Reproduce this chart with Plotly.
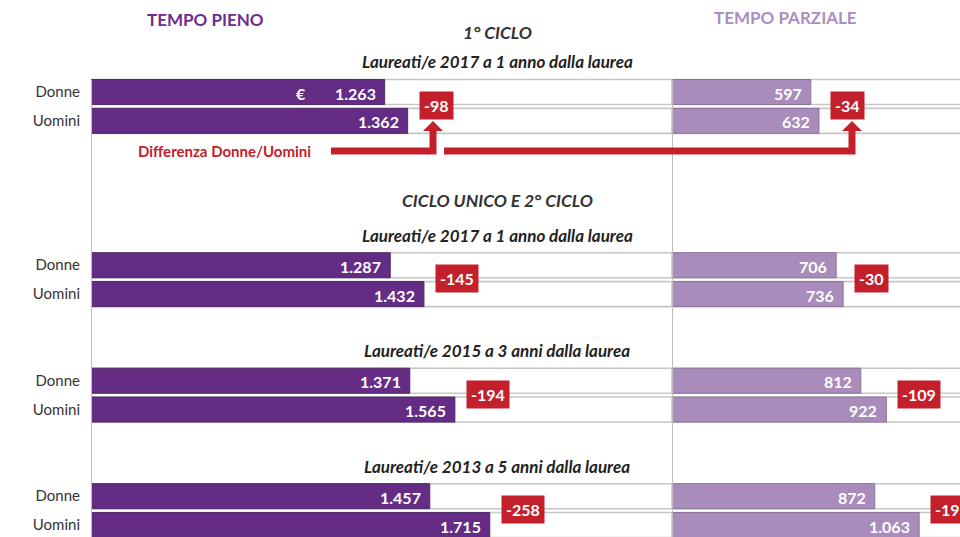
import plotly.graph_objects as go

# ---------------- data ----------------
group_titles = [
    "Laureati/e 2017 a 1 anno dalla laurea",
    "Laureati/e 2017 a 1 anno dalla laurea",
    "Laureati/e 2015 a 3 anni dalla laurea",
    "Laureati/e 2013 a 5 anni dalla laurea",
]
section_titles = ["1° CICLO", "CICLO UNICO E 2° CICLO"]
row_labels = ["Donne", "Uomini"]
full_donne = [1263, 1287, 1371, 1457]
full_uomini = [1362, 1432, 1565, 1715]
part_donne = [597, 706, 812, 872]
part_uomini = [632, 736, 922, 1063]
diff_full = [-98, -145, -194, -258]
diff_part = [-34, -30, -109, -191]

# ---------------- layout constants (window pixels) ----------------
W, H = 960, 537
ML = 91                      # left margin
SPLIT = 672                  # start of part-time panel
PXU = 0.2325                 # pixels per euro
ROW_PX = 28.87               # pixels per row
ROW0_PX = 92                 # centre of first row
group_rows = [0, 6, 10, 14]  # row index of "Donne" in each group
BAR_W = 0.866

DARK = "#652c86"
LIGHT = "#a98cbb"
RED = "#c4202b"
GREY = "#c6c6c6"
TXT = "#333333"
FONT = "Lato, 'Open Sans', sans-serif"

plot_w = W - ML
x1_max = (SPLIT - ML) / PXU
x2_max = (W - SPLIT) / PXU
split_frac = (SPLIT - ML) / plot_w
y_top = -ROW0_PX / ROW_PX
y_bot = y_top + H / ROW_PX


def pxx(p):  # window pixel -> paper x
    return (p - ML) / plot_w


def pxy(p):  # window pixel -> paper y
    return 1 - p / H


def fmt(v):
    return f"{v:,}".replace(",", ".")


rows_d = list(group_rows)
rows_u = [r + 1 for r in group_rows]
all_rows = sorted(rows_d + rows_u)

fig = go.Figure()

# background tracks
for xa, xmax in (("x", x1_max), ("x2", x2_max * 1.2)):
    fig.add_trace(go.Bar(
        y=all_rows, x=[xmax] * len(all_rows), orientation="h", xaxis=xa, yaxis="y",
        width=BAR_W, marker=dict(color="white", line=dict(color=GREY, width=1.6)),
        hoverinfo="skip", showlegend=False))

# value bars
for xa, vals_d, vals_u, col, edge in (
        ("x", full_donne, full_uomini, DARK, "#4e2a66"),
        ("x2", part_donne, part_uomini, LIGHT, "#8a7398")):
    fig.add_trace(go.Bar(
        y=rows_d + rows_u, x=vals_d + vals_u, orientation="h", xaxis=xa, yaxis="y",
        width=BAR_W, marker=dict(color=col, line=dict(color=edge, width=1)),
        hoverinfo="skip", showlegend=False))

ann = []
# value labels
for xa, vals_d, vals_u in (("x", full_donne, full_uomini), ("x2", part_donne, part_uomini)):
    for r, v in zip(rows_d + rows_u, vals_d + vals_u):
        ann.append(dict(x=v, y=r, xref=xa, yref="y", text=f"<b>{fmt(v)}</b>",
                        xanchor="right", yanchor="middle", xshift=-7, yshift=-1, showarrow=False,
                        font=dict(family=FONT, size=16, color="white")))
# euro sign
ann.append(dict(x=full_donne[0], y=rows_d[0], xref="x", yref="y", text="<b>€</b>",
                xanchor="center", yanchor="middle", xshift=-84, yshift=-1, showarrow=False,
                font=dict(family=FONT, size=16, color="white")))

# difference boxes
for xa, vals_u, diffs in (("x", full_uomini, diff_full), ("x2", part_uomini, diff_part)):
    for r, v, d in zip(group_rows, vals_u, diffs):
        ann.append(dict(x=v, y=r + 0.47, xref=xa, yref="y", text=f"<b>{d}</b>",
                        xanchor="left", yanchor="middle", xshift=11, showarrow=False,
                        bgcolor=RED, borderpad=4,
                        font=dict(family=FONT, size=16, color="white")))

# panel titles
ann.append(dict(x=pxx(205), y=pxy(20), xref="paper", yref="paper", text="<b>TEMPO PIENO</b>",
                xanchor="center", yanchor="middle",
                showarrow=False, font=dict(family=FONT, size=17, color="#6b2d8f")))
ann.append(dict(x=pxx(785), y=pxy(18), xref="paper", yref="paper", text="<b>TEMPO PARZIALE</b>",
                xanchor="center", yanchor="middle",
                showarrow=False, font=dict(family=FONT, size=17, color="#a98fc0")))

# section titles
for t, yp in zip(section_titles, (32, 200)):
    ann.append(dict(x=pxx(497), y=pxy(yp), xref="paper", yref="paper", text=f"<b><i>{t}</i></b>",
                    xanchor="center", yanchor="middle",
                    showarrow=False, font=dict(family=FONT, size=17.5, color=TXT)))
# group titles
for t, r in zip(group_titles, group_rows):
    ann.append(dict(x=pxx(497), y=r - 1.04, xref="paper", yref="y", text=f"<b><i>{t}</i></b>",
                    xanchor="center", yanchor="middle",
                    showarrow=False, font=dict(family=FONT, size=17, color="#222222")))

# differenza label
ann.append(dict(x=pxx(224), y=pxy(151), xref="paper", yref="paper", text="<b>Differenza Donne/Uomini</b>",
                xanchor="center", yanchor="middle",
                showarrow=False, font=dict(family=FONT, size=15, color=RED)))

shapes = []
# vertical axis lines
for xa in ("x", "x2"):
    shapes.append(dict(type="line", xref=xa, yref="y", x0=0, x1=0, y0=-BAR_W / 2, y1=y_bot + 1,
                       line=dict(color="#bdbdbd", width=2), layer="above"))

# red arrows
for x_start, x_turn in ((331, 433), (444, 852)):
    path = (f"M {pxx(x_start)},{pxy(151)} L {pxx(x_turn)},{pxy(151)} "
            f"L {pxx(x_turn)},{pxy(129)}")
    shapes.append(dict(type="path", xref="paper", yref="paper", path=path,
                       line=dict(color=RED, width=7), layer="above"))
    head = (f"M {pxx(x_turn - 10)},{pxy(131)} L {pxx(x_turn + 10)},{pxy(131)} "
            f"L {pxx(x_turn)},{pxy(121)} Z")
    shapes.append(dict(type="path", xref="paper", yref="paper", path=head,
                       fillcolor=RED, line=dict(color=RED, width=0), layer="above"))

fig.update_layout(
    width=W, height=H, margin=dict(l=ML, r=0, t=0, b=0, pad=0),
    paper_bgcolor="white", plot_bgcolor="white", barmode="overlay", bargap=0,
    xaxis=dict(domain=[0, split_frac], range=[0, x1_max], visible=False, anchor="y"),
    xaxis2=dict(domain=[split_frac, 1], range=[0, x2_max], visible=False, anchor="y"),
    yaxis=dict(range=[y_bot, y_top], tickmode="array", tickvals=all_rows,
               ticktext=[row_labels[i % 2] for i in range(len(all_rows))],
               showgrid=False, zeroline=False, showline=False, ticks="",
               ticklabelstandoff=10,
               tickfont=dict(family=FONT, size=15, color=TXT)),
    annotations=ann, shapes=shapes, showlegend=False,
)

fig.write_html(
    "out.html",
    config={"displayModeBar": False, "staticPlot": True},
    post_script="document.body.style.margin='0';document.body.style.overflow='hidden';",
)
